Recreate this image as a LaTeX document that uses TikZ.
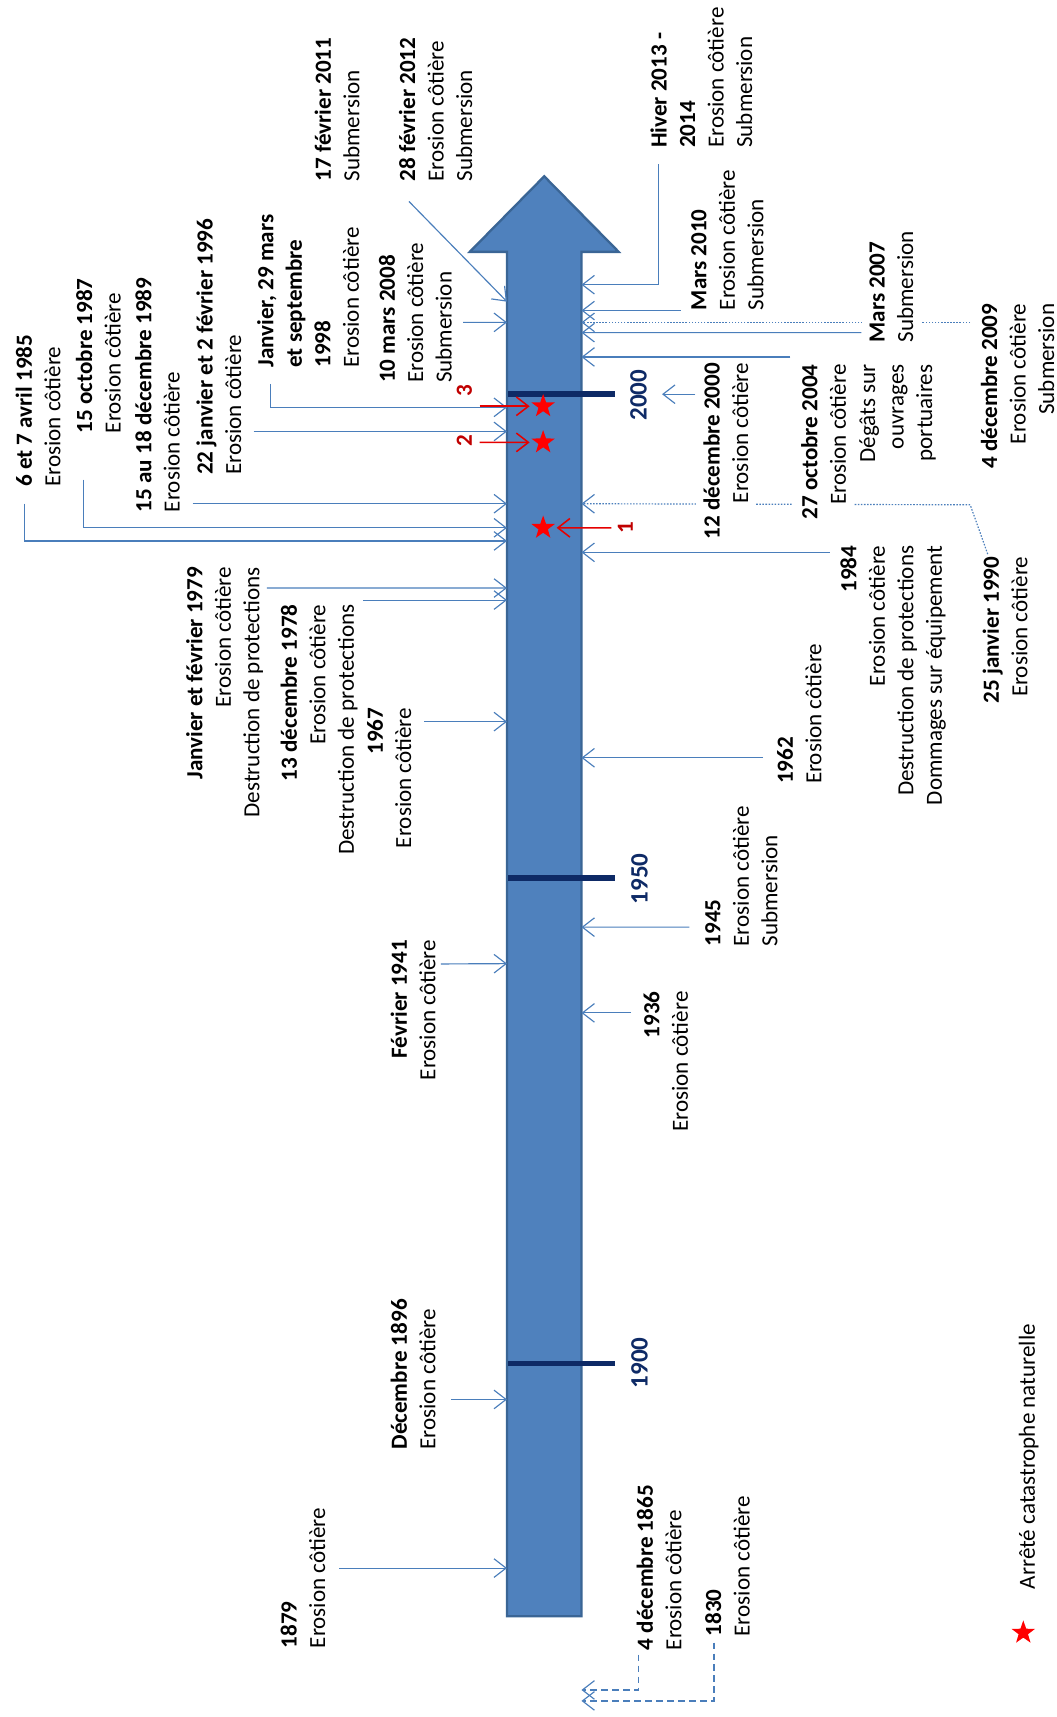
\documentclass[tikz,border=0pt]{standalone}
\usepackage{fontspec}
\setmainfont{Carlito}
\usetikzlibrary{arrows.meta,shapes.geometric,backgrounds}

\definecolor{bleufleche}{HTML}{4F81BD}
\definecolor{bordfleche}{HTML}{3A6595}
\definecolor{bleulien}{HTML}{4A7EBB}
\definecolor{marine}{HTML}{0E2A66}
\definecolor{rougefonce}{HTML}{C00000}

\tikzset{
  evt/.style={rotate=90, align=left, inner sep=0pt, font=\fontsize{12}{14.8}\selectfont},
  evtd/.style={evt, align=right},
  masque/.style={fill=white, inner ysep=4pt},
  lien/.style={draw=bleulien, line width=0.6pt, -{Straight Barb[length=2.2mm,width=3.4mm]}},
  pointille/.style={lien, dash pattern=on 0.8pt off 0.8pt},
  tirets/.style={lien, dash pattern=on 3.5pt off 2.2pt},
  corps/.style={fill=bleufleche, draw=bordfleche, line width=1.2pt},
  repere/.style={draw=marine, line width=2.9pt},
  annee/.style={rotate=90, inner sep=0pt, text=marine, font=\fontsize{13}{15}\selectfont\bfseries},
  etoile/.style={star, star points=5, star point ratio=2.5, fill=red, minimum size=0.45cm, inner sep=0pt},
  numero/.style={rotate=90, inner sep=0pt, text=rougefonce, font=\fontsize{12}{14}\selectfont\bfseries},
  rouge/.style={draw=red!90!black, line width=0.8pt, shorten >=3.2pt, -{Straight Barb[length=2.2mm,width=3.4mm]}}
}

\begin{document}
\begin{tikzpicture}[x=0.02cm, y=-0.02cm]
    \useasboundingbox (0,0) rectangle (965,1568);

    % evenements a gauche de la fleche
    \node[evt, anchor=north west] (n85) at (14,445) {\textbf{6 et 7 avril 1985}\\Erosion côtière};
    \node[evt, anchor=north west] (n87) at (69,396) {\textbf{15 octobre 1987}\\Erosion côtière};
    \node[evt, anchor=north west] (n89) at (123,468) {\textbf{15 au 18 décembre 1989}\\Erosion côtière};
    \node[evt, anchor=north west] (n96) at (179,434) {\textbf{22 janvier et 2 février 1996}\\Erosion côtière};
    \node[evt, anchor=north west] (n98) at (234.5,336) {\textbf{Janvier, 29 mars}\\\textbf{et septembre}\\\textbf{1998}\\Erosion côtière};
    \node[evt, anchor=north west] (n11) at (287,166) {\textbf{17 février 2011}\\Submersion};
    \node[evt, anchor=north west] (n12) at (364,166) {\textbf{28 février 2012}\\Erosion côtière\\Submersion};
    \node[evt, anchor=north west] (n08) at (345.6,350) {\textbf{10 mars 2008}\\Erosion côtière\\Submersion};
    \node[evtd, anchor=north east] (n79) at (169.7,517.5) {\textbf{Janvier et février 1979}\\Erosion côtière\\Destruction de protections};
    \node[evtd, anchor=north east] (n78) at (256,551.7) {\textbf{13 décembre 1978}\\Erosion côtière\\Destruction de protections};
    \node[evtd, anchor=north east] (n67) at (334.8,646) {\textbf{1967}\\Erosion côtière};
    \node[evtd, anchor=north east] (n41) at (356.4,858) {\textbf{Février 1941}\\Erosion côtière};
    \node[evt, anchor=north west] (n1896) at (356.4,1324) {\textbf{Décembre 1896}\\Erosion côtière};
    \node[evt, anchor=north west] (n1879) at (256,1505.5) {\textbf{1879}\\Erosion côtière};

    % evenements a droite de la fleche
    \node[evt, anchor=north west] (n14) at (593.6,135.3) {\textbf{Hiver 2013 -}\\\textbf{2014}\\Erosion côtière\\Submersion};
    \node[evt, anchor=north west] (n10) at (631,283.6) {\textbf{Mars 2010}\\Erosion côtière\\Submersion};
    \node[evt, masque, anchor=north west] (n07) at (786.7,313) {\textbf{Mars 2007}\\Submersion};
    \node[evtd, anchor=north east] (n09) at (895.4,277) {\textbf{4 décembre 2009}\\Erosion côtière\\Submersion};
    \node[evtd, masque, anchor=north east] (n00) at (635,331) {\textbf{12 décembre 2000}\\Erosion côtière};
    \node[evtd, masque, anchor=north east] (n04) at (724.2,332.5) {\textbf{27 octobre 2004}\\Erosion côtière};
    \node[evtd, anchor=north east] (n04b) at (784.4,332.5) {Dégâts sur\\ouvrages\\portuaires};
    \node[evtd, anchor=north east] (n90) at (897,508) {\textbf{25 janvier 1990}\\Erosion côtière};
    \node[evtd, anchor=north east] (n84) at (767.2,498) {\textbf{1984}\\Erosion côtière\\Destruction de protections\\Dommages sur équipement};
    \node[evt, anchor=north west] (n62) at (709.3,716.3) {\textbf{1962}\\Erosion côtière};
    \node[evt, anchor=north west] (n45) at (643.7,864.6) {\textbf{1945}\\Erosion côtière\\Submersion};
    \node[evtd, anchor=north east] (n36) at (587.4,905) {\textbf{1936}\\Erosion côtière};
    \node[evt, anchor=north west] (n65) at (581.1,1507.3) {\textbf{4 décembre 1865}\\Erosion côtière};
    \node[evt, anchor=north west] (n30) at (643.7,1494.7) {\textbf{1830}\\Erosion côtière};

    % annees
    \node[annee] (l2000) at (583,361) {2000};
    \node[annee] (l1950) at (584,802.5) {1950};
    \node[annee] (l1900) at (584,1244.5) {1900};

    % points d'arrivee sur la fleche
    \coordinate (a85) at (463,494);
    \coordinate (a87) at (463,482);
    \coordinate (a89) at (463,460);
    \coordinate (a96) at (463,394);
    \coordinate (a98) at (463,372);
    \coordinate (a12) at (463,275.5);
    \coordinate (a08) at (463,294.4);
    \coordinate (a79) at (463,537);
    \coordinate (a78) at (463,548);
    \coordinate (a67) at (463,659);
    \coordinate (a41) at (463,880);
    \coordinate (a1896) at (463,1278);
    \coordinate (a1879) at (463,1432);
    \coordinate (a14) at (531,260);
    \coordinate (a10) at (531,283.6);
    \coordinate (a07) at (531,303.8);
    \coordinate (a09) at (531,294.4);
    \coordinate (a04) at (531,326);
    \coordinate (a90) at (531,460);
    \coordinate (a84) at (531,504.4);
    \coordinate (a62) at (531,692);
    \coordinate (a45) at (531,846.7);
    \coordinate (a36) at (531,925);
    \coordinate (a65) at (531,1543.3);
    \coordinate (a30) at (531,1553.3);
    \coordinate (p2000) at (604.6,360);

    \begin{scope}[on background layer]
        % la fleche du temps
        \filldraw[corps] (463,1476) -- (463,230) -- (429,230) -- (497,161)
            -- (565,230) -- (531,230) -- (531,1476) -- cycle;

        \draw[lien] ([shift={(8,15)}]n85.north west) |- (a85);
        \draw[lien] ([shift={(7.5,42)}]n87.north west) |- (a87);
        \draw[lien] ([shift={(53,-8)}]n89.north west) -- (a89);
        \draw[lien] ([shift={(52.5,-40)}]n96.north west) -- (a96);
        \draw[lien] ([shift={(12.5,14.5)}]n98.north west) |- (a98);
        \draw[lien] ([shift={(9.5,18)}]n12.north west) -- (a12);
        \draw[lien] ([shift={(77.4,-55.6)}]n08.north west) -- (a08);
        \draw[lien] ([shift={(74.1,19.5)}]n79.north east) -- (a79);
        \draw[lien] ([shift={(75.7,-3.7)}]n78.north east) -- (a78);
        \draw[lien] ([shift={(52.5,13)}]n67.north east) -- (a67);
        \draw[lien] ([shift={(46.3,22.3)}]n41.north east) -- (a41);
        \draw[lien] ([shift={(55.6,-46)}]n1896.north west) -- (a1896);
        \draw[lien] ([shift={(54,-73.5)}]n1879.north west) -- (a1879);

        \draw[lien] ([shift={(7.8,14.7)}]n14.north west) |- (a14);
        \draw[lien] ([shift={(-9.2,0)}]n10.north west) -- (a10);
        \draw[lien] ([shift={(0,-9.2)}]n07.north west) -- (a07);
        \draw[pointille] ([shift={(-9.4,17.4)}]n09.north east) -- (a09);
        \draw[lien] ([shift={(0,29)}]n00.north east) -- (p2000);
        \draw[lien] ([shift={(-2.4,-6.5)}]n04.north east) -- (a04);
        \draw[pointille] ([shift={(5,-2)}]n90.north east) -- ++(-16,-45) -- (a90);
        \draw[lien] ([shift={(-9.4,6.4)}]n84.north east) -- (a84);
        \draw[lien] ([shift={(-12.5,-24.3)}]n62.north west) -- (a62);
        \draw[lien] ([shift={(-14.1,-17.9)}]n45.north west) -- (a45);
        \draw[lien] ([shift={(-11,20)}]n36.north east) -- (a36);
        \draw[tirets] ([shift={(1.6,3.7)}]n65.north west) |- (a65);
        \draw[tirets] ([shift={(8.3,5.3)}]n30.north west) |- (a30);
    \end{scope}

    % graduations
    \draw[repere] (464,360) -- (562,360);
    \draw[repere] (464,802) -- (562,802);
    \draw[repere] (464,1245) -- (562,1245);

    % arretes catastrophe naturelle
    \node[etoile] (s3) at (496,371) {};
    \node[etoile] (s2) at (496,404) {};
    \node[etoile] (s1) at (496,482) {};
    \node[numero] (r3) at (424,357) {3};
    \node[numero] (r2) at (424,402.5) {2};
    \node[numero] (r1) at (571,481.5) {1};
    \draw[rouge] ([shift={(14,14)}]r3.center) -- (s3);
    \draw[rouge] ([shift={(14,1.5)}]r2.center) -- (s2);
    \draw[rouge] ([shift={(-12.6,0.5)}]r1.center) -- (s1);

    % legende
    \node[etoile] (legetoile) at (934.5,1491) {};
    \node[evt, anchor=north west] (legende) at (930,1451.6) {Arrêté catastrophe naturelle};
\end{tikzpicture}
\end{document}
